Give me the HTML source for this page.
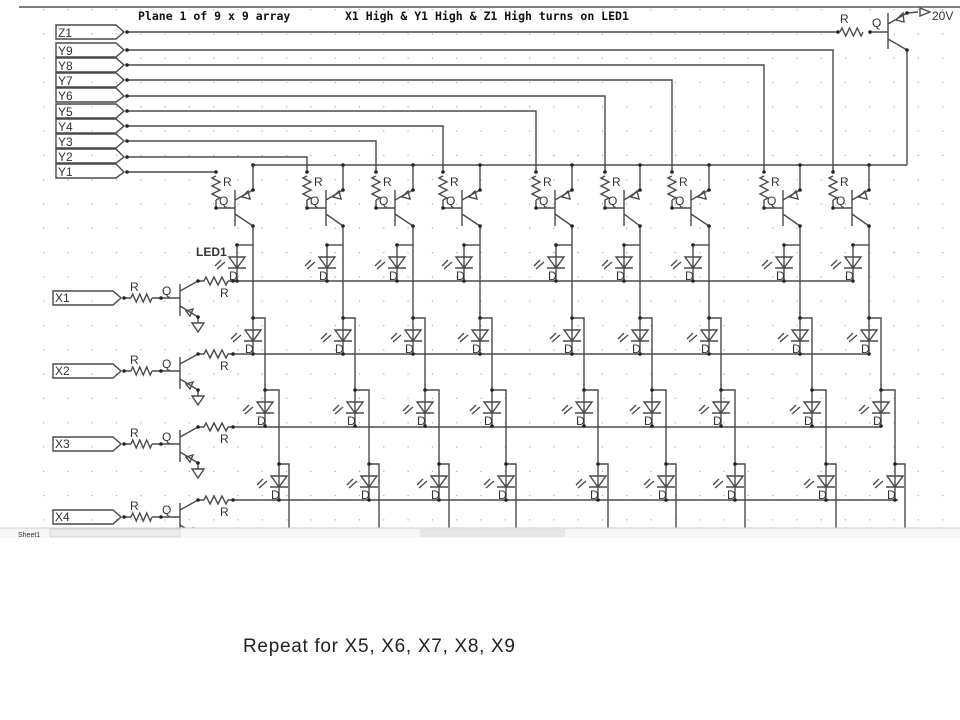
<!DOCTYPE html>
<html><head><meta charset="utf-8">
<style>
html,body{margin:0;padding:0;background:#fff;}
svg{display:block;}
.t{font-family:"DejaVu Sans Mono","Liberation Mono",monospace;font-weight:bold;font-size:11.5px;fill:#111;}
.l{font-family:"Liberation Sans",sans-serif;font-size:12px;fill:#333;}
</style></head>
<body>
<svg id="s" width="960" height="720" xmlns="http://www.w3.org/2000/svg">
<g id="grid"></g>
<line x1="19" y1="7" x2="960" y2="7" stroke="#555" stroke-width="1.5"/>
<text class="t" x="138" y="20">Plane 1 of 9 x 9 array</text>
<text class="t" x="345" y="20">X1 High &amp; Y1 High &amp; Z1 High turns on LED1</text>
<g id="w" stroke="#4a4a4a" stroke-width="1.4" fill="none"></g>
<g id="d" fill="#222"></g>
<g id="tx"></g>
<rect x="0" y="528" width="960" height="10" fill="#f6f6f6"/>
<line x1="0" y1="528" x2="960" y2="528" stroke="#ccc"/>
<rect x="50" y="529" width="130" height="8" fill="#ececec" stroke="#bbb" stroke-width="0.5"/>
<rect x="420" y="529" width="145" height="8" fill="#e6e6e6"/>
<text x="18" y="537" font-family="Liberation Sans,sans-serif" font-size="7" fill="#333">Sheet1</text>
<rect x="0" y="538" width="960" height="182" fill="#fff"/>
<text x="243" y="652" font-family="Liberation Sans,sans-serif" font-size="19" fill="#222" textLength="272">Repeat for X5, X6, X7, X8, X9</text>
</svg>
<script>
var NS="http://www.w3.org/2000/svg";
var W=document.getElementById('w'),D=document.getElementById('d'),T=document.getElementById('tx'),G=document.getElementById('grid');
function el(p,n,a){var e=document.createElementNS(NS,n);for(var k in a)e.setAttribute(k,a[k]);p.appendChild(e);return e;}
function P(d){el(W,'path',{d:d});}
function dot(x,y){el(D,'circle',{cx:x,cy:y,r:1.8});}
function txt(x,y,s,sz){var e=el(T,'text',{x:x,y:y,'class':'l'});if(sz)e.setAttribute('font-size',sz);e.textContent=s;}
for(var gx=43;gx<960;gx+=24.3)for(var gy=9;gy<528;gy+=24.3)el(G,'rect',{x:gx.toFixed(1),y:gy.toFixed(1),width:1.2,height:1.2,fill:'#aaa'});
function resH(x1,x2,y){var n=6,s=(x2-x1)/n,d='M'+x1+' '+y;for(var i=0;i<n;i++){d+=' L'+(x1+s*(i+0.5))+' '+(y+(i%2?4:-4));}d+=' L'+x2+' '+y;P(d);}
function resV(x,y1,y2){var n=6,s=(y2-y1)/n,d='M'+x+' '+y1;for(var i=0;i<n;i++){d+=' L'+(x+(i%2?4:-4))+' '+(y1+s*(i+0.5));}d+=' L'+x+' '+y2;P(d);}
var labs=[['Z1',25],['Y9',43],['Y8',58],['Y7',73],['Y6',88],['Y5',104],['Y4',119],['Y3',134],['Y2',149],['Y1',164]];
var ys={Z1:32,Y9:50,Y8:65,Y7:80,Y6:96,Y5:111,Y4:126,Y3:141,Y2:157,Y1:172};
labs.forEach(function(a){var y0=a[1],h=14,y=ys[a[0]];
 P('M56 '+y0+' L116 '+y0+' L124 '+y+' L116 '+(y0+h)+' L56 '+(y0+h)+' Z');txt(58,y0+12,a[0]);dot(127,y);});
P('M127 32 L838 32');dot(838,32);resH(840,863,32);dot(870,32);P('M870 32 L888 32');txt(840,23,'R');txt(872,27,'Q');
P('M888 13 L888 49 M888 24 L907 13 M888 39 L907 50 M907 50 L907 165 M907 13 L918 12');
P('M896 20 L903 13 L904 22 Z M920 8 L930 12 L920 16 Z');dot(907,13);dot(907,50);
txt(932,20,'20V',11);
var cols=[[216,253],[307,343],[376,413],[443,480],[536,572],[605,640],[672,709],[764,800],[833,869]];
var yl=[172,157,141,126,111,96,80,65,50];
P('M253 165 L907 165');
cols.forEach(function(c,i){var r=c[0],k=c[1],y=yl[i];
 if(i==0)P('M127 172 L216 172');else{P('M127 '+y+' L'+r+' '+y+' L'+r+' 172');}
 dot(r,172);resV(r,176,200);P('M'+r+' 200 L'+r+' 208 L'+(r+19)+' 208');dot(r,208);
 txt(r+7,186,'R');txt(r+3,205,'Q',11);
 P('M'+(r+19)+' 190 L'+(r+19)+' 226 M'+(r+19)+' 200 L'+k+' 190 M'+(r+19)+' 214 L'+k+' 226');
 P('M'+(r+26)+' 197 L'+(r+32)+' 191 L'+(r+34)+' 199 Z');
 P('M'+k+' 165 L'+k+' 190');dot(k,190);dot(k,226);dot(k,165);
 P('M'+k+' 226 L'+k+' 318 M'+k+' 318 L'+(k+12)+' 318 L'+(k+12)+' 390 L'+(k+26)+' 390 L'+(k+26)+' 464 L'+(k+36)+' 464 L'+(k+36)+' 528');
 P('M'+(k-16)+' 245 L'+k+' 245');
 var dx=[k-16,k,k+12,k+26],jy=[245,318,390,464];
 for(var j=0;j<4;j++){var x=dx[j],J=jy[j];dot(x,J);
  P('M'+x+' '+J+' L'+x+' '+(J+36)+' M'+(x-8)+' '+(J+12)+' L'+(x+8)+' '+(J+12)+' L'+x+' '+(J+23)+' Z M'+(x-9)+' '+(J+23)+' L'+(x+9)+' '+(J+23));
  P('M'+(x-12)+' '+(J+17)+' L'+(x-20)+' '+(J+24)+' M'+(x-16)+' '+(J+15)+' L'+(x-22)+' '+(J+21));
  dot(x,J+36);txt(x-8,J+35,'D',11);}
});
txt(196,256,'LED1',11);T.lastChild.setAttribute('font-weight','bold');
var rows=[['X1',281,853],['X2',354,870],['X3',427,882],['X4',500,898]];
rows.forEach(function(a){var L=a[1],b=L+17;
 P('M53 '+(b-7)+' L113 '+(b-7)+' L121 '+b+' L113 '+(b+7)+' L53 '+(b+7)+' Z');txt(55,b+4,a[0]);
 dot(124,b);resH(131,152,b);dot(161,b);P('M124 '+b+' L131 '+b+' M152 '+b+' L180 '+b);
 txt(130,b-7,'R');txt(162,b-3,'Q');
 P('M180 '+(L+3)+' L180 '+(L+35)+' M180 '+(L+10)+' L198 '+L+' M180 '+(L+25)+' L198 '+(L+36));
 dot(198,L);resH(204,228,L);P('M198 '+L+' L204 '+L+' M228 '+L+' L'+a[2]+' '+L);dot(233,L);txt(220,L+16,'R');
 P('M186 '+(L+30)+' L193 '+(L+28)+' L190 '+(L+35)+' Z');
 dot(198,L+36);P('M198 '+(L+36)+' L198 '+(L+42)+' M192 '+(L+42)+' L204 '+(L+42)+' L198 '+(L+51)+' Z');
});
</script>
</body></html>
